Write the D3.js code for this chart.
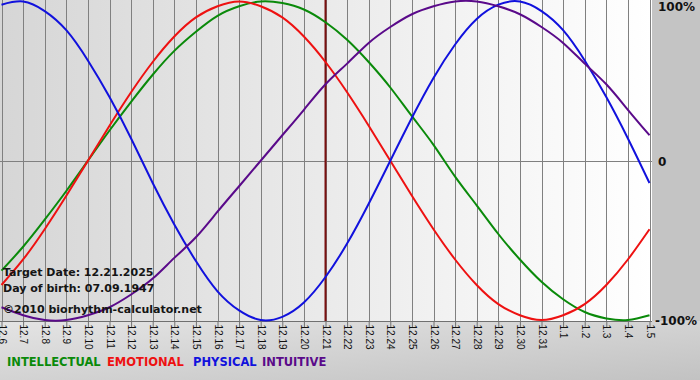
<!DOCTYPE html>
<html>
<head>
<meta charset="utf-8">
<script src="https://cdn.jsdelivr.net/npm/d3@7"></script>
<style>
  html, body { margin: 0; padding: 0; background: #c4c4c4; }
  svg { display: block; font-family: Verdana, "DejaVu Sans", sans-serif; }
</style>
</head>
<body>
<svg id="chart" width="700" height="380"></svg>
<script>
// days shown, 12.6 .. 1.5
var days = ['12.6','12.7','12.8','12.9','12.10','12.11','12.12','12.13','12.14','12.15',
            '12.16','12.17','12.18','12.19','12.20','12.21','12.22','12.23','12.24','12.25',
            '12.26','12.27','12.28','12.29','12.30','12.31','1.1','1.2','1.3','1.4','1.5']
var targetDay = '12.21'

// values, -1 .. 1
var intellectual = [-0.69,-0.54,-0.37,-0.19,0,0.19,0.37,0.54,0.69,0.81,0.91,0.97,1.00,0.99,0.95,0.87,
                    0.76,0.62,0.46,0.28,0.10,-0.10,-0.28,-0.46,-0.62,-0.76,-0.87,-0.95,-0.99,-1.00,-0.97]
var emotional = [-0.78,-0.62,-0.43,-0.22,0,0.22,0.43,0.62,0.78,0.90,0.97,1.00,0.97,0.90,0.78,0.62,
                 0.43,0.22,0,-0.22,-0.43,-0.62,-0.78,-0.90,-0.97,-1.00,-0.97,-0.90,-0.78,-0.62,-0.43]
var physical = [0.98,1.00,0.94,0.82,0.63,0.40,0.14,-0.14,-0.40,-0.63,-0.82,-0.94,-1.00,-0.98,-0.89,-0.73,
                -0.52,-0.27,0,0.27,0.52,0.73,0.89,0.98,1.00,0.94,0.82,0.63,0.40,0.14,-0.14]
var intuitive = [-0.92,-0.97,-1.00,-1.00,-0.97,-0.92,-0.84,-0.74,-0.61,-0.48,-0.32,-0.16,0,0.16,0.32,0.48,
                 0.61,0.74,0.84,0.92,0.97,1.00,1.00,0.97,0.92,0.84,0.74,0.61,0.48,0.32,0.16]

var seriesNames = ['INTELLECTUAL','EMOTIONAL','PHYSICAL','INTUITIVE']
var seriesColors = ['#0a8a0a','#ee1111','#1111dd','#5a0a8a']
var yLabels = ['100%','0','-100%']
var yLabelValues = [1, 0, -1]
var infoLines = ['Target Date: 12.21.2025','Day of birth: 07.09.1947','\u00a92010 biorhythm-calculator.net']

var svg = d3.select('#chart')
var plotW = 652, plotH = 321

var defs = svg.append('defs')
var g1 = defs.append('linearGradient').attr('id','plotBg').attr('x1','0').attr('x2','1').attr('y1','0').attr('y2','0')
g1.append('stop').attr('offset','0').attr('stop-color','#d6d6d6')
g1.append('stop').attr('offset','1').attr('stop-color','#ffffff')
var g2 = defs.append('linearGradient').attr('id','bottomBg').attr('x1','0').attr('x2','1').attr('y1','0').attr('y2','1')
g2.append('stop').attr('offset','0').attr('stop-color','#e4e4e4')
g2.append('stop').attr('offset','1').attr('stop-color','#c2c2c2')

svg.append('rect').attr('x',0).attr('y',0).attr('width',700).attr('height',380).attr('fill','#c4c4c4')
svg.append('rect').attr('x',0).attr('y',plotH).attr('width',700).attr('height',380-plotH).attr('fill','url(#bottomBg)')
svg.append('rect').attr('x',0).attr('y',0).attr('width',plotW).attr('height',plotH).attr('fill','url(#plotBg)')

var x = d3.scalePoint().domain(days).range([1.5, 649.5])
var y = d3.scaleLinear().domain([-1, 1]).range([320, 1.5])

// vertical grid
svg.append('g').selectAll('line').data(days).enter().append('line')
    .attr('x1', function(d){ return Math.round(x(d)) + 0.5 })
    .attr('x2', function(d){ return Math.round(x(d)) + 0.5 })
    .attr('y1', 0).attr('y2', plotH)
    .attr('stroke', '#808080').attr('stroke-width', 1)

// zero line
svg.append('line').attr('x1',0).attr('x2',plotW).attr('y1',Math.round(y(0))+0.5).attr('y2',Math.round(y(0))+0.5)
    .attr('stroke','#808080')

// x axis
var xAxis = d3.axisBottom(x).tickSize(6).tickPadding(3)
var axisG = svg.append('g').attr('transform','translate(0,' + (plotH + 0.5) + ')').call(xAxis)
axisG.select('.domain').attr('stroke','#707070').attr('d','M0,0H' + plotW)
axisG.selectAll('.tick line').attr('stroke','#707070')
axisG.selectAll('.tick text')
    .attr('font-size', 10).attr('fill','#111')
    .attr('text-anchor','start').attr('dy','0.35em')
    .attr('transform','rotate(90)')
    .attr('x', 3).attr('y', 0)

// curves
var all = [intellectual, emotional, physical, intuitive]
var line = d3.line()
    .x(function(d, i){ return x(days[i]) })
    .y(function(d){ return y(d) })
    .curve(d3.curveNatural)

// target day marker
svg.append('line').attr('x1',x(targetDay)).attr('x2',x(targetDay)).attr('y1',0).attr('y2',plotH)
    .attr('stroke','#7a1010').attr('stroke-width',2)

svg.append('g').selectAll('path').data(all).enter().append('path')
    .attr('d', line)
    .attr('fill','none')
    .attr('stroke', function(d, i){ return seriesColors[i] })
    .attr('stroke-width', 2)

// right labels
svg.append('g').selectAll('text').data(yLabels).enter().append('text')
    .attr('x', function(d, i){ return i == 2 ? 655 : 658 })
    .attr('y', function(d, i){ return y(yLabelValues[i]) + (i == 0 ? 5 : 1) })
    .attr('dy','0.35em')
    .attr('font-size', 12).attr('font-weight','bold').attr('fill','#111')
    .text(function(d){ return d })

// info text
svg.append('g').selectAll('text').data(infoLines).enter().append('text')
    .attr('x', 3)
    .attr('y', function(d, i){ return [276, 292, 313][i] })
    .attr('font-size', 11).attr('font-weight','bold').attr('fill','#151515')
    .text(function(d){ return d })

// legend
var legendX = [7, 107, 193, 262]
svg.append('g').selectAll('text').data(seriesNames).enter().append('text')
    .attr('x', function(d, i){ return legendX[i] })
    .attr('y', 366)
    .attr('font-size', 11.5).attr('font-weight','bold')
    .attr('fill', function(d, i){ return seriesColors[i] })
    .text(function(d){ return d })
</script>
</body>
</html>
